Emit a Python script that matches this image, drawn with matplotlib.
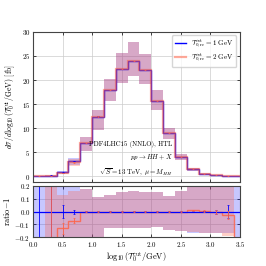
import numpy as np
import matplotlib
matplotlib.use("Agg")
import matplotlib.pyplot as plt

plt.rcParams['font.family'] = 'serif'
plt.rcParams['font.serif'] = ['cmr10', 'DejaVu Serif']
plt.rcParams['mathtext.fontset'] = 'cm'
plt.rcParams['axes.formatter.use_mathtext'] = True

# bin edges in log10(T0cut/GeV)
edges = np.arange(0.0, 3.61, 0.2)

# central values for T0cut = 1 GeV [fb]
xs_1gev = np.array([0.05, 0.1, 0.8, 3.1, 6.9, 12.4, 17.9, 22.3, 24.0,
                    22.1, 15.6, 9.0, 3.9, 1.4, 0.5, 0.2, 0.1, 0.02])
# ratio of T0cut = 2 GeV to 1 GeV, minus one
ratio_2gev = np.array([-1.0, -0.5, -0.13, -0.07, 0.0, 0.0, 0.0, 0.0, 0.0,
                       0.0, 0.0, 0.0, 0.0, 0.01, 0.005, 0.0, -0.025, -1.0])
# relative scale uncertainty (up / down)
scale_up = np.array([1.0, 2.0, 0.3, 0.25, 0.18, 0.11, 0.13, 0.15, 0.16,
                     0.15, 0.15, 0.12, 0.16, 0.22, 0.25, 0.25, 0.25, 1.0])
scale_dn = np.array([-1.0, -1.0, -0.3, -0.25, -0.25, -0.22, -0.13, -0.13, -0.13,
                     -0.13, -0.12, -0.14, -0.15, -0.17, -0.17, -0.17, -0.17, -1.0])
# relative statistical errors
stat_1gev = np.array([1.0, 1.0, 0.05, 0.015, 0.004, 0.002, 0.002, 0.002, 0.002,
                      0.002, 0.002, 0.002, 0.003, 0.004, 0.006, 0.015, 0.05, 0.3])
stat_2gev = np.array([0.0, 1.0, 0.045, 0.02, 0.005, 0.002, 0.002, 0.002, 0.002,
                      0.002, 0.002, 0.002, 0.003, 0.004, 0.006, 0.015, 0.03, 0.0])

xs_2gev = xs_1gev * (1 + ratio_2gev)
centers = 0.5 * (edges[:-1] + edges[1:])

c1 = 'blue'
c2 = 'tomato'

fig = plt.figure(figsize=(2.66, 2.66), dpi=100)
ax = fig.add_axes([0.124, 0.316, 0.778, 0.564])
rx = fig.add_axes([0.124, 0.108, 0.778, 0.193])

# top panel
ax.stairs(xs_1gev * (1 + scale_up), edges, baseline=xs_1gev * (1 + scale_dn),
          fill=True, color=c1, alpha=0.22, lw=0)
ax.stairs(xs_2gev * (1 + scale_up), edges, baseline=xs_2gev * (1 + scale_dn),
          fill=True, color=c2, alpha=0.3, lw=0)
ax.stairs(xs_1gev, edges, color=c1, lw=1.0,
          label=r'$\mathcal{T}_{0,\rm{re}}^{\rm cut} = 1$ GeV')
ax.stairs(xs_2gev, edges, color=c2, lw=1.6, alpha=0.55,
          label=r'$\mathcal{T}_{0,\rm{re}}^{\rm cut} = 2$ GeV')
ax.errorbar(centers, xs_1gev, yerr=xs_1gev * stat_1gev, fmt='none',
            ecolor=c1, elinewidth=0.6, capsize=1, capthick=0.5)
ax.errorbar(centers, xs_2gev, yerr=xs_2gev * stat_2gev, fmt='none',
            ecolor=c2, elinewidth=0.6, capsize=1, capthick=0.5)

ax.set_xlim(0, 3.5)
ax.set_ylim(-1.2, 30)
ax.set_yticks([0, 5, 10, 15, 20, 25, 30])
ax.set_xticks(np.arange(0, 3.51, 0.5))
ax.set_xticklabels([])
ax.set_ylabel(r'$d\sigma/d\log_{10}(\mathcal{T}_0^{\rm cut}/{\rm GeV})$ [fb]',
              fontsize=5.5, labelpad=3)
ax.text(2.36, 3.5, 'PDF4LHC15 (NNLO), HTL\n' + r'$pp \to HH + X$' + '\n'
        + r'$\sqrt{S} = 13$ TeV, $\mu = M_{HH}$',
        ha='right', va='center', fontsize=4.9, linespacing=1.6,
        multialignment='right')
ax.legend(loc='upper right', fontsize=5, frameon=True, fancybox=True,
          handlelength=1.6, borderpad=0.4, labelspacing=0.25, framealpha=0.8,
          handletextpad=0.8)

# ratio panel
rx.stairs(scale_up, edges, baseline=scale_dn, fill=True, color=c1, alpha=0.22, lw=0)
rx.stairs((1 + ratio_2gev) * (1 + scale_up) - 1, edges,
          baseline=(1 + ratio_2gev) * (1 + scale_dn) - 1,
          fill=True, color=c2, alpha=0.3, lw=0)
rx.axhline(0, color=c1, lw=0.9)
rx.stairs(ratio_2gev, edges, color=c2, lw=1.0, alpha=0.85, baseline=None)
rx.errorbar(centers, np.zeros_like(centers), yerr=stat_1gev, fmt='none',
            ecolor=c1, elinewidth=0.6, capsize=1, capthick=0.5)
rx.errorbar(centers, ratio_2gev, yerr=stat_2gev, fmt='none',
            ecolor=c2, elinewidth=0.6, capsize=1, capthick=0.5)

rx.set_xlim(0, 3.5)
rx.set_ylim(-0.2, 0.2)
rx.set_yticks([-0.2, -0.1, 0.0, 0.1, 0.2])
rx.set_xticks(np.arange(0, 3.51, 0.5))
rx.set_ylabel(r'ratio$-1$', fontsize=6, labelpad=2)
rx.set_xlabel(r'$\log_{10}(\mathcal{T}_0^{\rm cut}/{\rm GeV})$', fontsize=6, labelpad=1)

for a in (ax, rx):
    a.grid(True, color='#cccccc', lw=0.5)
    a.set_axisbelow(True)
    a.tick_params(direction='in', top=True, right=True, labelsize=5,
                  length=2.5, width=0.5, pad=2)
    for s in a.spines.values():
        s.set_color('#444444')
        s.set_linewidth(0.8)

fig.savefig('out.png', dpi=100)
